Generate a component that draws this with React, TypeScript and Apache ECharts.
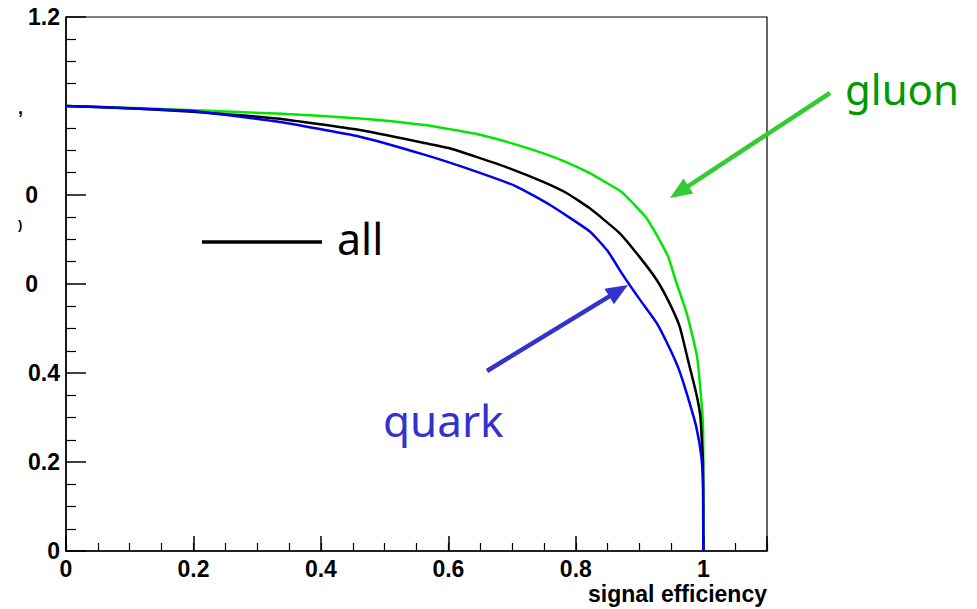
import React, { useEffect, useRef } from "react";
import * as echarts from "echarts";

// signal efficiency (x) vs background rejection (y)
const gluonPoints: [number, number][] = [
  [0, 1.0], [0.116, 0.995], [0.331, 0.983], [0.461, 0.972], [0.566, 0.957], [0.602, 0.948],
  [0.645, 0.937], [0.7, 0.916], [0.748, 0.894], [0.783, 0.875], [0.822, 0.849], [0.845, 0.83],
  [0.872, 0.807], [0.89, 0.781], [0.911, 0.748], [0.927, 0.71], [0.945, 0.661], [0.958, 0.602],
  [0.974, 0.534], [0.987, 0.459], [0.991, 0.429], [0.996, 0.354], [0.9996, 0.279], [1.0, 0.144], [1.0, 0.0],
];
const allPoints: [number, number][] = [
  [0, 1.0], [0.116, 0.994], [0.199, 0.987], [0.331, 0.972], [0.461, 0.946], [0.566, 0.916],
  [0.602, 0.905], [0.645, 0.885], [0.696, 0.86], [0.748, 0.83], [0.786, 0.804], [0.822, 0.77],
  [0.869, 0.714], [0.9, 0.661], [0.927, 0.609], [0.947, 0.557], [0.963, 0.504], [0.976, 0.429],
  [0.989, 0.354], [0.9955, 0.302], [0.998, 0.242], [0.9995, 0.2], [1.0, 0.1], [1.0, 0.0],
];
const quarkPoints: [number, number][] = [
  [0, 1.0], [0.116, 0.994], [0.199, 0.989], [0.331, 0.965], [0.461, 0.931], [0.566, 0.889],
  [0.645, 0.852], [0.707, 0.819], [0.759, 0.778], [0.822, 0.718], [0.85, 0.674],
  [0.874, 0.62], [0.9, 0.566], [0.927, 0.512], [0.947, 0.456], [0.962, 0.407], [0.974, 0.354],
  [0.989, 0.279], [0.997, 0.212], [0.9996, 0.144], [1.0, 0.0],
];
const xAxisTitle = "signal efficiency";
const labelAll = "all";
const labelGluon = "gluon";
const labelQuark = "quark";

const tickFont = { fontFamily: "Liberation Sans, Arial, sans-serif", fontWeight: "bold" as const, fontSize: 23, color: "#000" };
const noteFont = "Noto Sans, sans-serif";

function arrow(x1: number, y1: number, x2: number, y2: number, color: string) {
  const dx = x2 - x1, dy = y2 - y1;
  const L = Math.hypot(dx, dy);
  const ux = dx / L, uy = dy / L;
  const hl = 22, hw = 9;
  const bx = x2 - ux * hl, by = y2 - uy * hl;
  return [
    { type: "line", shape: { x1, y1, x2: bx + ux * 2, y2: by + uy * 2 }, style: { stroke: color, lineWidth: 4.5 }, z: 100 },
    {
      type: "polygon",
      shape: { points: [[x2, y2], [bx - uy * hw, by + ux * hw], [bx + uy * hw, by - ux * hw]] },
      style: { fill: color }, z: 100,
    },
  ];
}

export default function App() {
  const ref = useRef<HTMLDivElement>(null);
  useEffect(() => {
    const chart = echarts.init(ref.current!, null, { renderer: "svg" });
    chart.setOption({
      animation: false,
      backgroundColor: "#fff",
      grid: { left: 66, right: 210, top: 17, bottom: 58, show: true, borderColor: "#000", borderWidth: 1.2 },
      xAxis: [
        {
          type: "value", min: 0, max: 1.1, interval: 0.2, position: "bottom",
          axisLine: { show: true, onZero: false, lineStyle: { color: "#000", width: 1.5 } },
          axisTick: { show: true, inside: true, length: 15, lineStyle: { color: "#000", width: 1.5 } },
          splitLine: { show: false },
          axisLabel: {
            ...tickFont, margin: 6,
            formatter: (v: number) => (v > 1.05 ? "" : v === 0 ? "0" : Math.abs(v - 1) < 1e-6 ? "1" : v.toFixed(1)),
          },
        },
        {
          type: "value", min: 0, max: 1.1, interval: 0.05, position: "bottom", offset: 0,
          axisLine: { show: false },
          axisTick: { show: true, inside: true, length: 8, lineStyle: { color: "#000", width: 1.2 } },
          splitLine: { show: false },
          axisLabel: { show: false },
        },
      ],
      yAxis: {
        type: "value", min: 0, max: 1.2, interval: 0.2,
        axisLine: { show: true, onZero: false, lineStyle: { color: "#000", width: 1.5 } },
        axisTick: { show: true, inside: true, length: 20, lineStyle: { color: "#000", width: 1.5 } },
        minorTick: { show: true, splitNumber: 4, length: 10, lineStyle: { color: "#000", width: 1.2 } },
        splitLine: { show: false },
        axisLabel: {
          ...tickFont, margin: 6,
          formatter: (v: number) => {
            const r = Math.round(v * 10) / 10;
            if (r === 1) return "";
            if (r === 0.8 || r === 0.6) return "{h|0}";
            if (r === 0) return "0";
            return r.toFixed(1);
          },
          rich: { h: { ...tickFont, padding: [0, 22, 0, 0] } },
        },
      },
      series: [
        { name: labelGluon, type: "line", data: gluonPoints, showSymbol: false, smooth: 0.15, lineStyle: { color: "#00e600", width: 2.5 }, z: 3 },
        { name: labelAll, type: "line", data: allPoints, showSymbol: false, smooth: 0.15, lineStyle: { color: "#000", width: 2.5 }, z: 4 },
        { name: labelQuark, type: "line", data: quarkPoints, showSymbol: false, smooth: 0.15, lineStyle: { color: "#0000ee", width: 2.5 }, z: 5 },
      ],
      graphic: [
        { type: "text", right: 977 - 767, top: 582, style: { text: xAxisTitle, fill: "#000", font: "bold 23px Liberation Sans, Arial, sans-serif" } },
        { type: "text", x: 18, y: 108, style: { text: ",", fill: "#000", font: "bold 18px Liberation Sans, Arial, sans-serif", verticalAlign: "middle" } },
        { type: "text", x: 18, y: 224, style: { text: ")", fill: "#000", font: "bold 13px Liberation Sans, Arial, sans-serif", verticalAlign: "middle" } },
        { type: "line", shape: { x1: 202, y1: 242, x2: 322, y2: 242 }, style: { stroke: "#000", lineWidth: 3.5 }, z: 100 },
        { type: "text", x: 337, y: 238, style: { text: labelAll, fill: "#000", font: `43px ${noteFont}`, verticalAlign: "middle" }, z: 100 },
        { type: "text", x: 845, y: 88, style: { text: labelGluon, fill: "#009900", font: `42px ${noteFont}`, verticalAlign: "middle" }, z: 100 },
        { type: "text", x: 383, y: 420, style: { text: labelQuark, fill: "#3333cc", font: `44px ${noteFont}`, verticalAlign: "middle" }, z: 100 },
        ...arrow(830, 93, 670, 198, "#33cc33"),
        ...arrow(487, 371, 628, 285, "#3333cc"),
      ],
    });
    return () => chart.dispose();
  }, []);
  return <div ref={ref} style={{ position: "fixed", left: 0, top: 0, width: 977, height: 609 }} />;
}
